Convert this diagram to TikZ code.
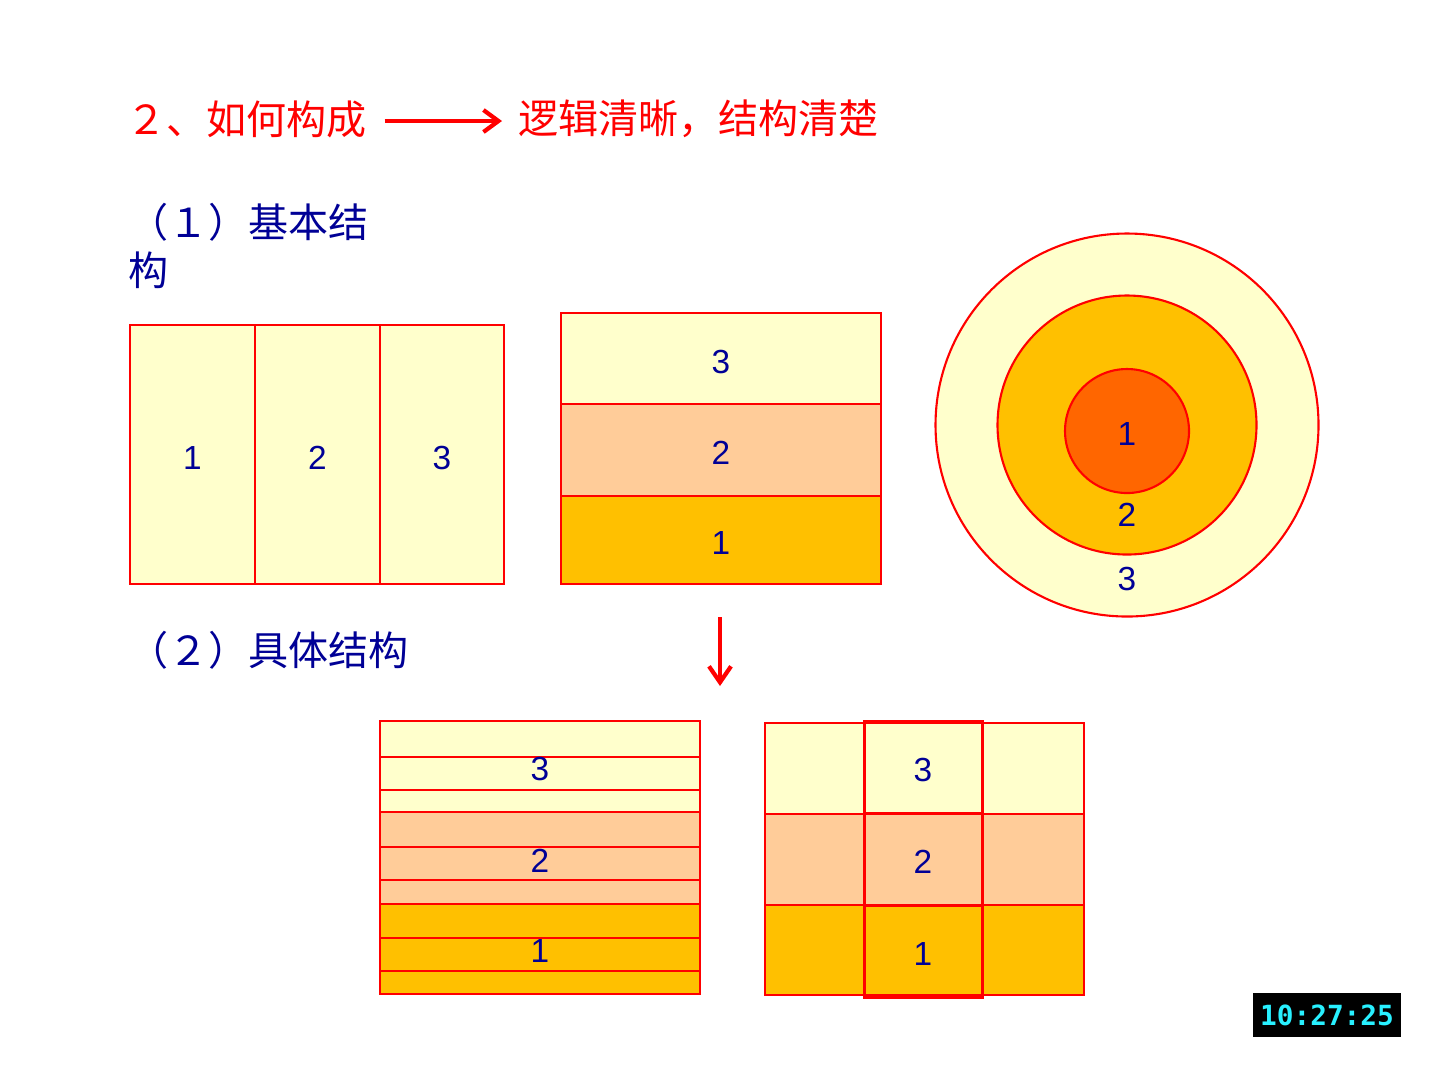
\documentclass[tikz,border=0pt]{standalone}
\usepackage{fontspec}
\setmainfont{Liberation Sans}
\newfontfamily\cjk{Noto Sans CJK SC}
\newfontfamily\clockfont{DejaVu Sans Mono}
\usetikzlibrary{arrows.meta}

\definecolor{lemon}{RGB}{255,255,204}
\definecolor{peach}{RGB}{255,204,153}
\definecolor{amber}{RGB}{255,192,0}
\definecolor{flame}{RGB}{255,102,0}
\definecolor{navy}{RGB}{0,0,150}
\definecolor{lcd}{RGB}{40,240,255}

\begin{document}
\begin{tikzpicture}[x=0.1mm,y=-0.1mm,line width=0.6pt,>={Straight Barb[length=1.5mm,width=2.2mm]},
   cell/.style={draw=red,inner sep=0pt,text=navy,text height=8.5pt,text depth=0pt,font=\fontsize{9.5}{11}\selectfont},
   ring/.style={circle,draw=red,inner sep=0pt},
   num/.style={text=navy,inner sep=0pt,text height=8.5pt,text depth=0pt,font=\fontsize{9.5}{11}\selectfont},
   head/.style={anchor=west,inner sep=0pt,align=left,font=\cjk\fontsize{11.4}{13.7}\selectfont}]
  \useasboundingbox[fill=white] (0,0) rectangle (1440,1080);
  % title line
  \node[head,text=red] (t1) at (125,119) {２、如何构成};
  \node[head,text=red] (t2) at (517,119) {逻辑清晰，结构清楚};
  \draw[->,red,line width=1.2pt] ([xshift=1.7mm,yshift=-0.2mm]t1.east) -- ([xshift=-1.5mm,yshift=-0.2mm]t2.west);
  \node[head,text=navy] (h1) at (127,246) {（１）基本结\\构};
  \node[head,text=navy] (h2) at (127,650) {（２）具体结构};

  % three columns
  \node[cell,fill=lemon,minimum width=12.5mm,minimum height=25.9mm] (a1) at (192.5,454.5) {1};
  \node[cell,fill=lemon,minimum width=12.5mm,minimum height=25.9mm] (a2) at (317.5,454.5) {2};
  \node[cell,fill=lemon,minimum width=12.4mm,minimum height=25.9mm] (a3) at (442,454.5) {3};

  % three layers
  \node[cell,fill=lemon,minimum width=32mm,minimum height=9.1mm] (b3) at (721,358.5) {3};
  \node[cell,fill=peach,minimum width=32mm,minimum height=9.2mm] (b2) at (721,450) {2};
  \node[cell,fill=amber,minimum width=32mm,minimum height=8.8mm] (b1) at (721,540) {1};

  % rings
  \node[ring,fill=lemon,minimum size=38.3mm] (c3) at (1127,425) {};
  \node[ring,fill=amber,minimum size=25.9mm] (c2) at (1127,425) {};
  \node[ring,fill=flame,minimum size=12.4mm] (c1) at (1127,431) {};
  \node[num] (n1) at (1127,431) {1};
  \node[num] (n2) at (1127,512) {2};
  \node[num] (n3) at (1127,576) {3};

  % down arrow
  \coordinate (d1) at (720,617);
  \coordinate (d2) at (720,686);
  \draw[->,red,line width=1.2pt,>={Straight Barb[length=1.6mm,width=2.2mm]}] (d1) -- (d2);

  % striped layers
  \node[cell,fill=lemon,minimum width=32mm,minimum height=9.1mm] (s3) at (540,766.5) {};
  \node[cell,fill=peach,minimum width=32mm,minimum height=9.2mm] (s2) at (540,858) {};
  \node[cell,fill=amber,minimum width=32mm,minimum height=9mm] (s1) at (540,949) {};
  \foreach \y in {757,790,847,880,938,971}
    \draw[red] (380,\y) -- (700,\y);
  \node[num] (m3) at (540,766) {3};
  \node[num] (m2) at (540,858) {2};
  \node[num] (m1) at (540,948) {1};

  % layers with middle column
  \node[cell,fill=lemon,minimum width=31.9mm,minimum height=9.1mm] (r3) at (924.5,768.5) {};
  \node[cell,fill=peach,minimum width=31.9mm,minimum height=9.1mm] (r2) at (924.5,859.5) {};
  \node[cell,fill=amber,minimum width=31.9mm,minimum height=9mm] (r1) at (924.5,950) {};
  \node[cell,line width=0.85pt,minimum width=11.8mm,minimum height=9.2mm] (k3) at (923,767) {3};
  \node[cell,line width=0.85pt,minimum width=11.8mm,minimum height=9.2mm] (k2) at (923,859) {2};
  \node[cell,line width=0.85pt,minimum width=11.8mm,minimum height=9.2mm] (k1) at (923,951) {1};

  % clock
  \node[fill=black,minimum width=14.8mm,minimum height=4.4mm,inner sep=0pt,text=lcd,
        font=\clockfont\bfseries\fontsize{7.9}{9}\selectfont] (clk) at (1327,1015) {10:27:25};
\end{tikzpicture}
\end{document}
